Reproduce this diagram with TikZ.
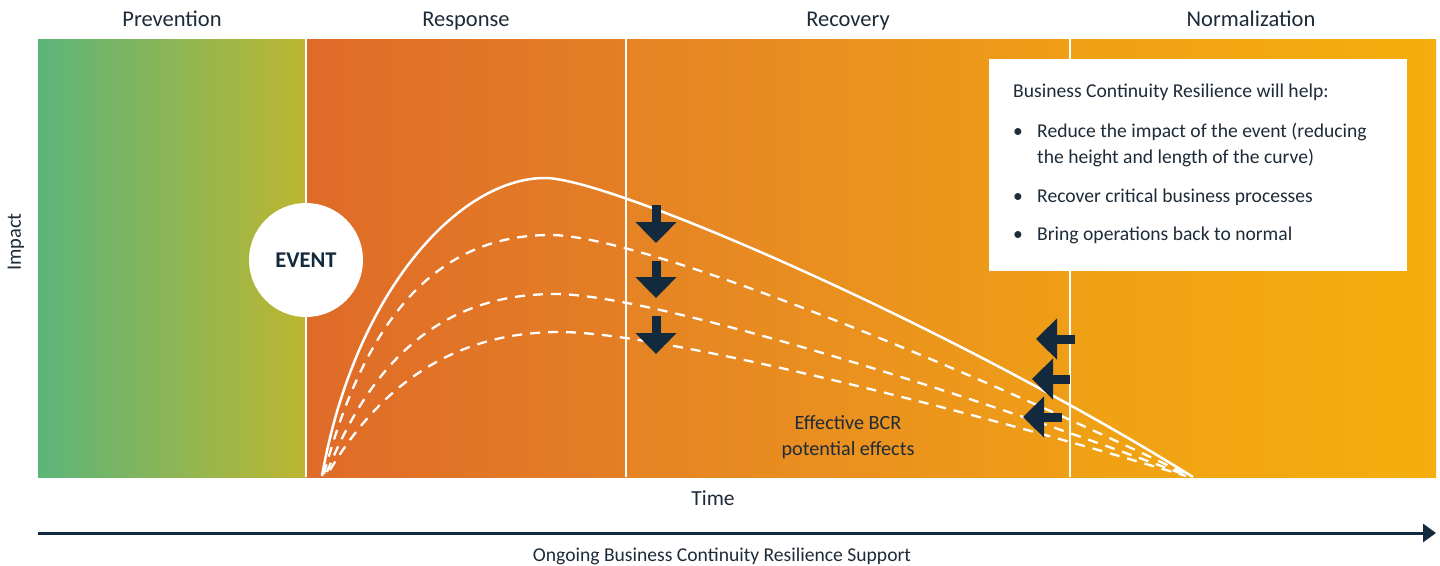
\documentclass[tikz,border=0pt]{standalone}
\usepackage{fontspec}
\setmainfont{Carlito}
\usetikzlibrary{arrows.meta}
\definecolor{navy}{HTML}{13293D}
\definecolor{txt}{HTML}{1E2B38}
\definecolor{pvA}{HTML}{5BB57A}
\definecolor{pvB}{HTML}{BDB631}
\definecolor{rsA}{HTML}{DF6B28}
\definecolor{rsB}{HTML}{E47F25}
\definecolor{rcA}{HTML}{E58325}
\definecolor{rcB}{HTML}{EF9E17}
\definecolor{nmA}{HTML}{EFA015}
\definecolor{nmB}{HTML}{F5AE0D}
\tikzset{
  phase/.style={font=\fontsize{22.5}{26}\selectfont, text=txt, anchor=base},
  boxtxt/.style={font=\fontsize{19.6}{24}\selectfont, text=txt, anchor=base west, inner sep=0pt},
  divider/.style={draw=white, line width=1.5pt},
  impactcurve/.style={draw=white, line width=2.5pt},
  bcrcurve/.style={draw=white, line width=2.3pt, dash pattern=on 10pt off 8pt},
  bigarrow/.style={draw=navy, line width=9pt, -{Triangle[width=40pt,length=21pt]}},
}
\begin{document}
\begin{tikzpicture}[x=1pt,y=-1pt]
\path[use as bounding box, fill=white] (0,0) rectangle (1440,565);
% bands
\shade[left color=pvA, right color=pvB] (38,39) rectangle (306,477);
\shade[left color=rsA, right color=rsB] (306,39) rectangle (626,477);
\shade[left color=rcA, right color=rcB] (626,39) rectangle (1070,477);
\shade[left color=nmA, right color=nmB] (1070,39) rectangle (1436,477);
\draw[divider] (306,39) -- (306,477);
\draw[divider] (626,39) -- (626,477);
\draw[divider] (1070,39) -- (1070,477);
% phase labels
\node[phase] (prev) at (172,26) {Prevention};
\node[phase] (resp) at (466,26) {Response};
\node[phase] (reco) at (848,26) {Recovery};
\node[phase] (norm) at (1251,26) {Normalization};
% curves
\path[impactcurve] (322,476) .. controls (355,290) and (460,178) .. (545,178)
  .. controls (610,178) and (943,322) .. (1193,477);
\path[bcrcurve] (324,474) .. controls (370,300) and (450,235) .. (550,235)
  .. controls (640,235) and (950,360) .. (1190,476);
\path[bcrcurve] (327,472) .. controls (380,340) and (460,294) .. (555,294)
  .. controls (650,294) and (960,390) .. (1188,476);
\path[bcrcurve] (330,470) .. controls (390,370) and (470,332) .. (560,332)
  .. controls (660,332) and (970,410) .. (1186,476);
% event
\node[circle, fill=white, minimum size=114pt, inner sep=0pt, font=\fontsize{22.5}{26}\selectfont\bfseries, text=navy] (event) at (306,260) {EVENT};
% arrows down
\draw[bigarrow] (656,205) -- (656,243);
\draw[bigarrow] (656,261) -- (656,298);
\draw[bigarrow] (656,316) -- (656,354);
% arrows left
\draw[bigarrow] (1075,339) -- (1036,339);
\draw[bigarrow] (1070,379) -- (1032,379);
\draw[bigarrow] (1062,417) -- (1023,417);
% effective BCR
\node[font=\fontsize{20.2}{24}\selectfont, text=txt, anchor=base] (eff1) at (848,429) {Effective BCR};
\node[font=\fontsize{20.2}{24}\selectfont, text=txt, anchor=base] (eff2) at (848,455) {potential effects};
% box
\path[fill=white] (989,59) rectangle (1407,271);
\node[boxtxt] (title) at (1013,97) {Business Continuity Resilience will help:};
\node[boxtxt] (b1) at (1013,137) {•};
\node[boxtxt] (t1a) at (1037,137) {Reduce the impact of the event (reducing};
\node[boxtxt] (t1b) at (1037,163) {the height and length of the curve)};
\node[boxtxt] (b2) at (1013,202) {•};
\node[boxtxt] (t2) at (1037,202) {Recover critical business processes};
\node[boxtxt] (b3) at (1013,240) {•};
\node[boxtxt] (t3) at (1037,240) {Bring operations back to normal};
% axes labels
\node[font=\fontsize{20.5}{24}\selectfont, text=txt, rotate=90] (impact) at (16,242) {Impact};
\node[font=\fontsize{21.5}{25}\selectfont, text=txt, anchor=base] (time) at (713,505) {Time};
\coordinate (axs) at (38,533);
\coordinate (axe) at (1436,533);
\draw[draw=navy, line width=3pt, -{Triangle[width=18pt,length=13pt]}] (axs) -- (axe);
\node[font=\fontsize{19.6}{23}\selectfont, text=txt, anchor=base] (support) at (722,561) {Ongoing Business Continuity Resilience Support};
\end{tikzpicture}
\end{document}
